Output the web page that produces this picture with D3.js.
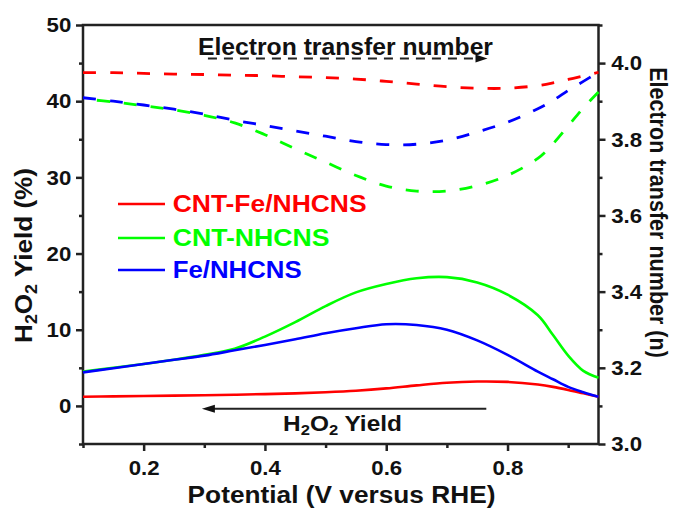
<!DOCTYPE html>
<html><head><meta charset="utf-8">
<script src="https://cdn.jsdelivr.net/npm/d3@7"></script>
<style>
body{margin:0;background:#fff}
svg{display:block}
text{font-family:"Liberation Sans",Arial,sans-serif;font-weight:bold}
</style>
</head><body>
<svg id="c" width="673" height="514"></svg>
<script>
// ---- data ----
const potential = [0.1, 0.15, 0.2, 0.25, 0.3, 0.35, 0.4, 0.45, 0.5, 0.55, 0.6, 0.65, 0.7, 0.75, 0.8, 0.85, 0.875, 0.9, 0.925, 0.95];
// H2O2 yield (%) - left axis
const yieldCntFe = [1.2, 1.25, 1.3, 1.35, 1.4, 1.47, 1.55, 1.65, 1.8, 2.0, 2.3, 2.7, 3.05, 3.2, 3.15, 2.8, 2.5, 2.1, 1.65, 1.2];
const yieldCnt   = [4.5, 5.0, 5.5, 6.05, 6.7, 7.5, 9.1, 11.0, 13.1, 14.9, 16.0, 16.75, 16.9, 16.2, 14.6, 11.9, 9.3, 6.6, 4.6, 3.7];
const yieldFe    = [4.4, 4.95, 5.5, 6.05, 6.6, 7.3, 8.0, 8.75, 9.55, 10.2, 10.72, 10.62, 10.0, 8.6, 6.7, 4.5, 3.5, 2.5, 1.8, 1.2];
// electron transfer number n - right axis
const nCntFe = [3.975, 3.975, 3.973, 3.971, 3.970, 3.968, 3.967, 3.964, 3.962, 3.958, 3.952, 3.945, 3.938, 3.934, 3.934, 3.941, 3.948, 3.957, 3.966, 3.976];
const nCnt   = [3.906, 3.898, 3.888, 3.877, 3.863, 3.843, 3.812, 3.775, 3.740, 3.705, 3.677, 3.664, 3.664, 3.678, 3.705, 3.750, 3.788, 3.835, 3.882, 3.924];
const nFe    = [3.909, 3.900, 3.890, 3.879, 3.866, 3.850, 3.836, 3.822, 3.808, 3.794, 3.786, 3.787, 3.798, 3.819, 3.845, 3.880, 3.902, 3.928, 3.952, 3.976];

const seriesNames = ["CNT-Fe/NHCNS", "CNT-NHCNS", "Fe/NHCNS"];
const seriesColors = ["#ff0000", "#00ff00", "#0000ff"];

const xMajor = [0.2, 0.4, 0.6, 0.8];
const xMinor = [0.1, 0.3, 0.5, 0.7, 0.9];
const yLMajor = [0, 10, 20, 30, 40, 50];
const yLMinor = [-5, 5, 15, 25, 35, 45];
const yRMajor = [3.0, 3.2, 3.4, 3.6, 3.8, 4.0];
const yRMinor = [3.1, 3.3, 3.5, 3.7, 3.9, 4.1];

// ---- chart ----
const svg = d3.select("#c");
const x = d3.scaleLinear().domain([0.1, 0.95]).range([83, 598.5]);
const yL = d3.scaleLinear().domain([-5, 50]).range([444, 25]);
const yR = d3.scaleLinear().domain([3.0, 4.1]).range([444, 25]);

const AX = "#222";
const TXT = "#111";
function drawAxis(makeGen, tr, majors, minors, fmt, pad) {
  const gMin = svg.append("g").attr("transform", tr)
    .call(makeGen().tickValues(minors).tickSize(4).tickSizeOuter(0).tickFormat(""));
  const gMaj = svg.append("g").attr("transform", tr)
    .call(makeGen().tickValues(majors).tickSize(7).tickSizeOuter(0).tickPadding(pad).tickFormat(fmt));
  [gMin, gMaj].forEach(g => {
    g.select(".domain").remove();
    g.selectAll("line").attr("stroke", AX).attr("stroke-width", 2.5);
    g.selectAll("text").attr("font-size", 21).attr("font-family", '"Liberation Sans",Arial,sans-serif')
      .attr("font-weight", "bold").style("fill", TXT).attr("transform", "scale(1.06,1)");
  });
}
drawAxis(() => d3.axisBottom(x), "translate(0,444)", xMajor, xMinor, d3.format(".1f"), 9);
drawAxis(() => d3.axisLeft(yL), "translate(83,0)", yLMajor, yLMinor, d3.format("d"), 4);
drawAxis(() => d3.axisRight(yR), "translate(598.5,0)", yRMajor, yRMinor, d3.format(".1f"), 5);

// frame
svg.append("rect").attr("x", x(0.1)).attr("y", yL(50))
  .attr("width", x(0.95) - x(0.1)).attr("height", yL(-5) - yL(50))
  .attr("fill", "none").attr("stroke", AX).attr("stroke-width", 2.5);

// curves
const curve = d3.curveCatmullRom.alpha(0.5);
const lineL = d3.line().x((d, i) => x(potential[i])).y(d => yL(d)).curve(curve);
const lineR = d3.line().x((d, i) => x(potential[i])).y(d => yR(d)).curve(curve);
const yieldSeries = [yieldCntFe, yieldCnt, yieldFe];
const nSeries = [nCntFe, nCnt, nFe];
const dashOffsets = [0, 13, 0];
nSeries.forEach((s, k) => {
  svg.append("path").attr("d", lineR(s)).attr("fill", "none")
    .attr("stroke", seriesColors[k]).attr("stroke-width", 2.8)
    .attr("stroke-dasharray", "13,14").attr("stroke-dashoffset", dashOffsets[k]);
});
yieldSeries.forEach((s, k) => {
  svg.append("path").attr("d", lineL(s)).attr("fill", "none")
    .attr("stroke", seriesColors[k]).attr("stroke-width", 2.6);
});

// text helper: fit text to target length
function fitText(px, py, rot, size, len, anchor, build, fill) {
  const g = svg.append("g").attr("transform", `translate(${px},${py}) rotate(${rot})`);
  const t = g.append("text").attr("font-size", size).attr("text-anchor", anchor)
    .style("fill", fill || TXT);
  build(t);
  const w = t.node().getComputedTextLength();
  t.attr("transform", `scale(${len / w},1)`);
  return t;
}
function withSubs(parts) {
  return t => {
    let back = false;
    parts.forEach(p => {
      if (p.sub) {
        t.append("tspan").attr("font-size", "0.68em").attr("dy", "0.32em").text(p.s);
        back = true;
      } else {
        const ts = t.append("tspan").text(p.s);
        if (back) ts.attr("dy", "-0.2176em");
        back = false;
      }
    });
  };
}

// axis titles
fitText(31.5, 255.5, -90, 23, 175, "middle",
  withSubs([{s: "H"}, {s: "2", sub: true}, {s: "O"}, {s: "2", sub: true}, {s: " Yield (%)"}]));
fitText(650, 212.5, 90, 23, 291, "middle", t => t.text("Electron transfer number (n)"));
fitText(341.5, 503, 0, 24, 308, "middle", t => t.text("Potential (V versus RHE)"));

// legend
const legY = [204, 238, 270];
const legLen = [194, 157, 129];
seriesNames.forEach((nm, k) => {
  svg.append("line").attr("x1", 118).attr("x2", 165).attr("y1", legY[k]).attr("y2", legY[k])
    .attr("stroke", seriesColors[k]).attr("stroke-width", 2.6);
  fitText(172.7, legY[k] + 7.7, 0, 23, legLen[k], "start", t => t.text(nm), seriesColors[k]);
});

// annotations
fitText(198, 55, 0, 23, 295, "start", t => t.text("Electron transfer number"));
const topA = {x0: 0.306, x1: 0.767, v: 45.6};
svg.append("line").attr("x1", x(topA.x0)).attr("x2", x(topA.x1) - 11)
  .attr("y1", yL(topA.v)).attr("y2", yL(topA.v))
  .attr("stroke", "#222").attr("stroke-width", 2).attr("stroke-dasharray", "9,7");
svg.append("path").attr("fill", "#111")
  .attr("d", `M${x(topA.x1)},${yL(topA.v)} l-12,-4 l0,8 z`);

const botA = {x0: 0.765, x1: 0.296, v: -0.36};
svg.append("line").attr("x1", x(botA.x0)).attr("x2", x(botA.x1) + 10)
  .attr("y1", yL(botA.v)).attr("y2", yL(botA.v))
  .attr("stroke", "#222").attr("stroke-width", 2);
svg.append("path").attr("fill", "#111")
  .attr("d", `M${x(botA.x1)},${yL(botA.v)} l13,-4 l0,8 z`);
fitText(283, 430.7, 0, 22, 119, "start",
  withSubs([{s: "H"}, {s: "2", sub: true}, {s: "O"}, {s: "2", sub: true}, {s: " Yield"}]));
</script>
</body></html>
